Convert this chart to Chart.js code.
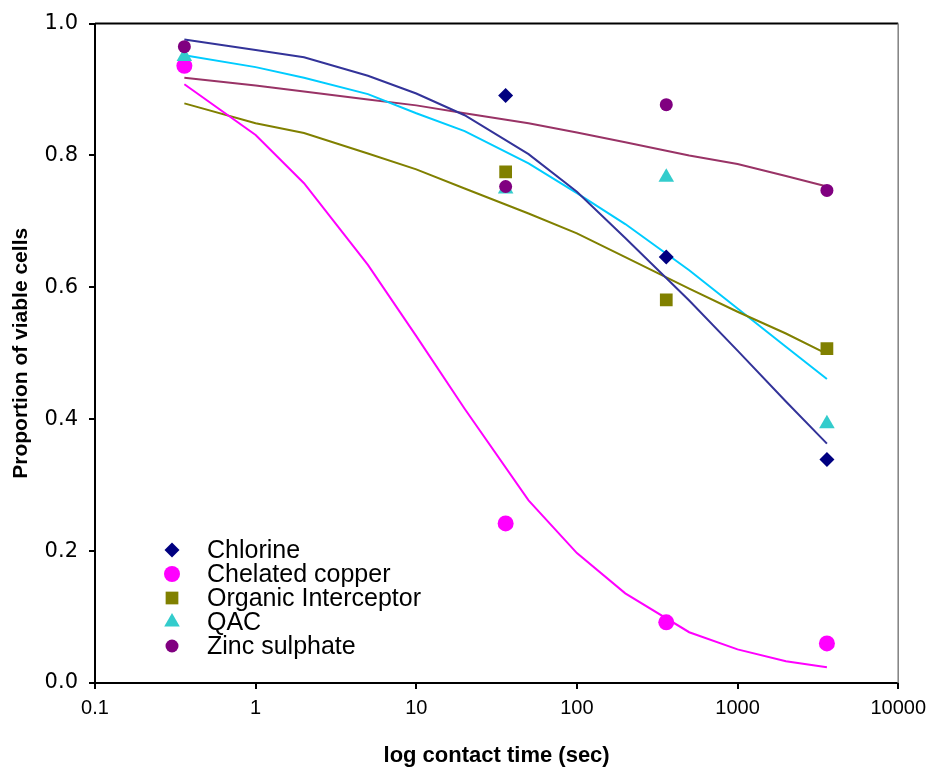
<!DOCTYPE html>
<html>
<head>
<meta charset="utf-8">
<title>Proportion of viable cells</title>
<script src="https://cdn.jsdelivr.net/npm/chart.js@4/dist/chart.umd.min.js"></script>
<style>
  body { margin: 0; background: #fff; }
  #grafico { display: block; }
</style>
</head>
<body>
<canvas id="grafico" width="933" height="769"></canvas>
<script>
// measured points (contact time in seconds), null = no marker shown
const times = [0.36, 36, 360, 3600];
const chlorine = [null, 0.891, 0.646, 0.339];
const chelatedCopper = [0.936, 0.242, 0.092, 0.060];
const organicInterceptor = [null, 0.775, 0.581, 0.507];
const qac = [0.950, 0.749, 0.767, 0.393];
const zincSulphate = [0.965, 0.753, 0.877, 0.747];

// fitted curves
const fitTimes = [0.36, 1, 2, 5, 10, 20, 50, 100, 200, 500, 1000, 2000, 3600];
const chlorineFit = [0.976, 0.960, 0.949, 0.921, 0.894, 0.861, 0.802, 0.745, 0.675, 0.580, 0.504, 0.427, 0.363];
const copperFit = [0.908, 0.831, 0.758, 0.634, 0.526, 0.416, 0.277, 0.197, 0.136, 0.077, 0.051, 0.033, 0.024];
const organicFit = [0.879, 0.849, 0.834, 0.803, 0.779, 0.750, 0.712, 0.682, 0.646, 0.598, 0.563, 0.530, 0.499];
const qacFit = [0.952, 0.934, 0.918, 0.893, 0.864, 0.837, 0.788, 0.743, 0.696, 0.626, 0.568, 0.510, 0.461];
const zincFit = [0.918, 0.906, 0.897, 0.885, 0.876, 0.864, 0.849, 0.835, 0.820, 0.800, 0.787, 0.769, 0.753];

const xTicks = [0.1, 1, 10, 100, 1000, 10000];
const xTickLabels = ['0.1', '1', '10', '100', '1000', '10000'];
const seriesNames = ['Chlorine', 'Chelated copper', 'Organic Interceptor', 'QAC', 'Zinc sulphate'];

const toPoints = (xs, ys) => xs.map((x, i) => ({ x: x, y: ys[i] }));

// marker looks, shared by the points and the legend
const markers = [
    { style: 'rectRot', radius: 7.5, color: '#000080' },
    { style: 'circle', radius: 8, color: '#FF00FF' },
    { style: 'rect', radius: 9, color: '#808000' },
    { style: 'triangle', radius: 9, color: '#33CCCC' },
    { style: 'circle', radius: 6.5, color: '#800080' }
];
const lineColors = ['#333399', '#FF00FF', '#808000', '#00CCFF', '#993366'];

const pointSets = [chlorine, chelatedCopper, organicInterceptor, qac, zincSulphate];
const fitSets = [chlorineFit, copperFit, organicFit, qacFit, zincFit];

const datasets = [];
pointSets.forEach((vals, i) => {
    datasets.push({
        type: 'scatter',
        label: seriesNames[i],
        data: toPoints(times, vals),
        pointStyle: markers[i].style,
        pointRadius: markers[i].radius,
        pointBackgroundColor: markers[i].color,
        pointBorderColor: markers[i].color,
        pointBorderWidth: 0,
        showLine: false,
        order: 4 - i // last series ends up on top
    });
});
fitSets.forEach((vals, i) => {
    datasets.push({
        type: 'line',
        label: seriesNames[i] + ' fit',
        data: toPoints(fitTimes, vals),
        borderColor: lineColors[i],
        borderWidth: 2,
        pointRadius: 0,
        tension: 0,
        fill: false,
        order: 10 + i
    });
});

function drawMarker(ctx, m, x, y) {
    ctx.save();
    ctx.fillStyle = m.color;
    ctx.beginPath();
    const r = m.radius;
    if (m.style === 'circle') {
        ctx.arc(x, y, r, 0, Math.PI * 2);
    } else if (m.style === 'rect') {
        const s = r * Math.SQRT1_2;
        ctx.rect(x - s, y - s, 2 * s, 2 * s);
    } else if (m.style === 'rectRot') {
        ctx.moveTo(x - r, y);
        ctx.lineTo(x, y - r);
        ctx.lineTo(x + r, y);
        ctx.lineTo(x, y + r);
        ctx.closePath();
    } else if (m.style === 'triangle') {
        ctx.moveTo(x, y - r);
        ctx.lineTo(x + r * 0.866, y + r / 2);
        ctx.lineTo(x - r * 0.866, y + r / 2);
        ctx.closePath();
    }
    ctx.fill();
    ctx.restore();
}

// legend inside the plot, lower left, plus the frame on top and right
const extras = {
    id: 'extras',
    afterDatasetsDraw(chart) {
        const ctx = chart.ctx;
        const area = chart.chartArea;
        ctx.save();
        ctx.strokeStyle = '#000';
        ctx.lineWidth = 2;
        ctx.beginPath();
        ctx.moveTo(area.left, area.top);
        ctx.lineTo(area.right, area.top);
        ctx.stroke();
        ctx.strokeStyle = '#808080';
        ctx.lineWidth = 1.5;
        ctx.beginPath();
        ctx.moveTo(area.right, area.top);
        ctx.lineTo(area.right, area.bottom);
        ctx.stroke();

        ctx.font = '25px "Liberation Sans", Arial, sans-serif';
        ctx.fillStyle = '#000';
        ctx.textBaseline = 'middle';
        ctx.textAlign = 'left';
        seriesNames.forEach((name, i) => {
            const y = 550 + i * 24;
            drawMarker(ctx, markers[i], 172, y);
            ctx.fillText(name, 207, y + 1);
        });
        ctx.restore();
    }
};

const ctx = document.getElementById('grafico').getContext('2d');
new Chart(ctx, {
    data: { datasets: datasets },
    options: {
        responsive: false,
        animation: false,
        layout: { padding: { left: 0, right: 33, top: 22, bottom: 0 } },
        scales: {
            x: {
                type: 'logarithmic',
                min: 0.1,
                max: 10000,
                afterBuildTicks: (axis) => { axis.ticks = xTicks.map(v => ({ value: v })); },
                afterFit: (axis) => { axis.height = 86; },
                ticks: {
                    color: '#000',
                    padding: 7,
                    maxRotation: 0,
                    autoSkip: false,
                    font: { family: '"Liberation Sans", Arial, sans-serif', size: 20 },
                    callback: (value, index) => xTickLabels[index]
                },
                grid: { drawOnChartArea: false, drawTicks: true, tickLength: 6, color: '#000', lineWidth: 2 },
                border: { display: true, color: '#000', width: 2 },
                title: {
                    display: true,
                    text: 'log contact time (sec)',
                    color: '#000',
                    padding: { top: 0, bottom: 0 },
                    font: { family: '"Liberation Sans", Arial, sans-serif', size: 22, weight: 'bold' }
                }
            },
            y: {
                type: 'linear',
                min: 0,
                max: 1,
                afterFit: (axis) => { axis.width = 95; },
                ticks: {
                    stepSize: 0.2,
                    color: '#000',
                    padding: 11,
                    font: { family: '"DejaVu Sans", sans-serif', size: 21 },
                    callback: (value) => value.toFixed(1)
                },
                grid: { drawOnChartArea: false, drawTicks: true, tickLength: 6, color: '#000', lineWidth: 2 },
                border: { display: true, color: '#000', width: 2 },
                title: {
                    display: true,
                    text: 'Proportion of viable cells',
                    color: '#000',
                    padding: { top: 9, bottom: 0 },
                    font: { family: '"Liberation Sans", Arial, sans-serif', size: 21, weight: 'bold' }
                }
            }
        },
        plugins: {
            legend: { display: false },
            tooltip: { enabled: false }
        }
    },
    plugins: [extras]
});
</script>
</body>
</html>
